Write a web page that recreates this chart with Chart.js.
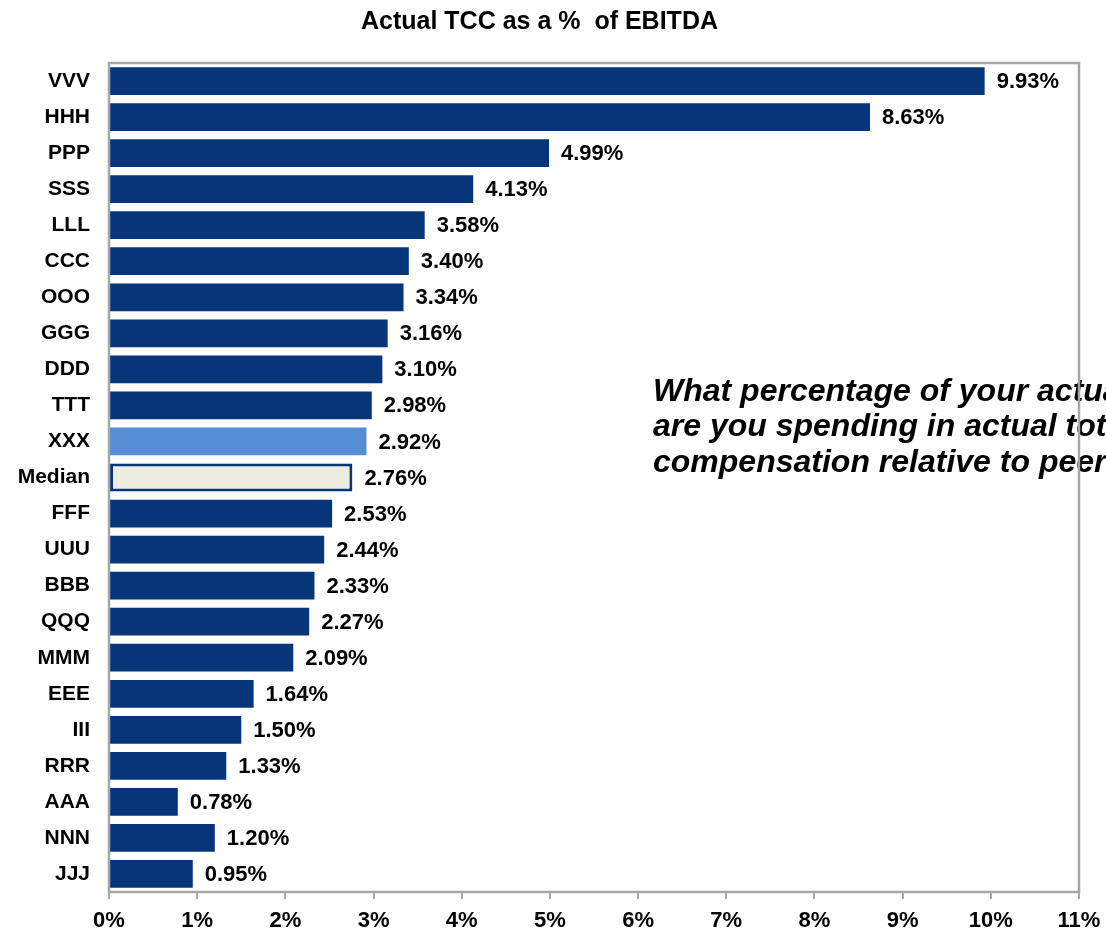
<!DOCTYPE html>
<html>
<head>
<meta charset="utf-8">
<script src="https://cdn.jsdelivr.net/npm/chart.js@4/dist/chart.umd.min.js"></script>
<style>
  html, body { margin: 0; padding: 0; background: #fff; }
  #wrap { width: 1106px; height: 935px; }
</style>
</head>
<body>
<div id="wrap"><canvas id="tcc" width="1106" height="935"></canvas></div>
<script>
const companies = ['VVV', 'HHH', 'PPP', 'SSS', 'LLL', 'CCC', 'OOO', 'GGG', 'DDD', 'TTT', 'XXX', 'Median',
  'FFF', 'UUU', 'BBB', 'QQQ', 'MMM', 'EEE', 'III', 'RRR', 'AAA', 'NNN', 'JJJ'];
const tccPct = [9.93, 8.63, 4.99, 4.13, 3.58, 3.40, 3.34, 3.16, 3.10, 2.98, 2.92, 2.76,
  2.53, 2.44, 2.33, 2.27, 2.09, 1.64, 1.50, 1.33, 0.78, 1.20, 0.95];
const xTicks = [0, 1, 2, 3, 4, 5, 6, 7, 8, 9, 10, 11];
const question = [
  'What percentage of your actual EBITDA',
  'are you spending in actual total',
  'compensation relative to peers?'
];

const FONT = "'Liberation Sans', Arial, sans-serif";
const NAVY = '#06357a';
const GRAY = '#a6a6a6';

const fills = companies.map(c => c === 'XXX' ? '#558ed5' : c === 'Median' ? '#eeece1' : NAVY);

// value labels at the end of each bar
const barLabels = {
  id: 'barLabels',
  afterDatasetsDraw(chart) {
    const ctx = chart.ctx;
    const meta = chart.getDatasetMeta(0);
    ctx.save();
    ctx.font = 'bold 22px ' + FONT;
    ctx.fillStyle = '#000';
    ctx.textAlign = 'left';
    ctx.textBaseline = 'middle';
    meta.data.forEach((bar, i) => {
      ctx.fillText(tccPct[i].toFixed(2) + '%', bar.x + 12, bar.y + 1);
    });
    ctx.restore();
  }
};

// question text, then the plot frame drawn over it
const frame = {
  id: 'frame',
  afterDraw(chart) {
    const ctx = chart.ctx;
    const a = chart.chartArea;
    ctx.save();
    ctx.font = 'italic bold 32px ' + FONT;
    ctx.fillStyle = '#000';
    ctx.textBaseline = 'middle';
    question.forEach((line, i) => ctx.fillText(line, 653, 392 + i * 35.5));
    ctx.strokeStyle = GRAY;
    ctx.lineWidth = 2.5;
    ctx.strokeRect(a.left, a.top, a.right - a.left, a.bottom - a.top);
    ctx.restore();
  }
};

new Chart(document.getElementById('tcc'), {
  type: 'bar',
  data: {
    labels: companies,
    datasets: [{
      data: tccPct,
      backgroundColor: fills,
      borderColor: companies.map(c => c === 'Median' ? NAVY : 'rgba(0,0,0,0)'),
      borderWidth: companies.map(c => c === 'Median' ? 3 : 0),
      borderSkipped: false,
      barPercentage: 0.77,
      categoryPercentage: 1
    }]
  },
  options: {
    responsive: false,
    animation: false,
    indexAxis: 'y',
    layout: { padding: { left: 0, right: 27, top: 0, bottom: 0 } },
    plugins: {
      legend: { display: false },
      tooltip: { enabled: false },
      title: {
        display: true,
        text: 'Actual TCC as a %  of EBITDA',
        color: '#000',
        font: { family: FONT, size: 25, weight: 'bold' },
        padding: { top: 7, bottom: 26 }
      }
    },
    scales: {
      x: {
        min: 0,
        max: 11,
        afterBuildTicks: axis => { axis.ticks = xTicks.map(v => ({ value: v })); },
        afterFit: axis => {
          axis.height = 43;
          axis.paddingLeft = 0;
          axis.paddingRight = 0;
        },
        border: { display: false },
        grid: { drawOnChartArea: false, drawTicks: true, tickLength: 7, color: GRAY, lineWidth: 2 },
        ticks: {
          padding: 9,
          color: '#000',
          font: { family: FONT, size: 22, weight: 'bold' },
          callback: v => v + '%'
        }
      },
      y: {
        afterFit: axis => { axis.width = 109; },
        border: { display: false },
        grid: { display: false, drawTicks: false },
        ticks: {
          padding: 19,
          color: '#000',
          font: { family: FONT, size: 21, weight: 'bold' }
        }
      }
    }
  },
  plugins: [barLabels, frame]
});
</script>
</body>
</html>
